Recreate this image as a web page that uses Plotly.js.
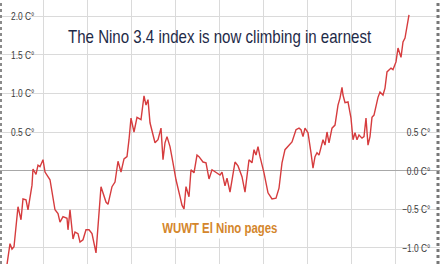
<!DOCTYPE html>
<html>
<head>
<meta charset="utf-8">
<script src="https://cdn.plot.ly/plotly-3.0.1.min.js"></script>
<style>html,body{margin:0;padding:0;background:#fff;}#chart{width:440px;height:264px;}</style>
</head>
<body>
<div id="chart"></div>
<script>
// time step (sample index along the record)
const t = [7,10,12,14,18,21,23,26,28,32,33,36,38,40,43,45,50,55,58,60,63,67,68,70,73,75,78,80,83,86,89,92,96,101,106,108,112,115,118,121,124,127,129,131,134,137,141,144,146,148,150,155,158,161,163,165,167,170,173,176,180,182,184,186,189,191,194,197,199,203,206,209,212,216,220,222,225,227,230,235,238,242,245,249,252,254,256,258,260,264,268,272,276,279,282,285,289,292,296,299,301,303,305,308,311,313,315,317,319,323,325,327,329,332,335,338,340,342,343,345,348,351,353,355,357,359,362,364,366,368,370,372,374,378,380,383,385,387,391,393,396,398,401,403,405,407,409];
// Nino 3.4 anomaly (°C)
const nino34 = [-1.22,-0.95,-1.02,-0.99,-0.47,-0.64,-0.37,-0.38,-0.51,-0.19,0.02,-0.05,0.07,0.05,0.14,-0.02,-0.12,-0.51,-0.56,-0.67,-0.60,-0.62,-0.77,-0.51,-0.89,-0.80,-0.82,-0.93,-0.90,-0.77,-0.77,-0.82,-1.07,-0.21,-0.41,-0.44,-0.21,-0.15,0.12,-0.02,0.15,0.18,0.40,0.68,0.50,0.69,0.66,0.97,0.85,0.92,0.62,0.36,0.40,0.55,0.14,0.36,0.44,0.31,0.10,-0.12,-0.34,-0.45,-0.50,-0.21,-0.34,0.01,-0.03,0.20,0.18,0.11,0.10,-0.11,0.01,-0.02,-0.06,-0.02,-0.20,-0.10,-0.28,0.11,0.06,-0.08,-0.28,0.14,0.10,0.27,0.20,0.31,0.18,-0.03,-0.29,-0.37,-0.36,-0.23,0.10,0.27,0.33,0.37,0.53,0.55,0.53,0.44,0.55,0.49,0.23,0.03,0.18,0.23,0.20,0.40,0.33,0.50,0.36,0.55,0.59,0.85,0.94,1.08,0.98,0.88,0.89,0.68,0.40,0.49,0.40,0.46,0.42,0.44,0.68,0.33,0.44,0.69,0.72,0.95,1.02,0.98,1.07,1.28,1.33,1.31,1.41,1.59,1.47,1.67,1.72,1.89,2.02];

const leftTickVals = [0.5, 1.0, 1.5, 2.0];
const leftTickText = ["0.5 C°", "1.0 C°", "1.5 C°", "2.0 C°"];
const rightTickVals = [-1.0, -0.5, 0.0, 0.5];
const rightTickText = ["\u22121.0 C°", "\u22120.5 C°", "0.0 C°", "0.5 C°"];
const titleText = "The Nino 3.4 index is now climbing in earnest";
const creditText = "WUWT El Nino pages";

const FONT = '"Liberation Sans", Arial, Helvetica, sans-serif';
const yRange = [-1.214, 2.214];

// grid values: union of both label sets; labels only on the left set
const gridVals = [];
const gridText = [];
rightTickVals.concat(leftTickVals).forEach(v => {
  if (gridVals.indexOf(v) === -1) {
    gridVals.push(v);
    const i = leftTickVals.indexOf(v);
    gridText.push(i >= 0 ? leftTickText[i] : '');
  }
});

const data = [{
  x: t, y: nino34, type: 'scatter', mode: 'lines',
  line: {color: '#d63c3e', width: 1.4}, hoverinfo: 'skip', showlegend: false
}];

const rightLabels = rightTickVals.map((v, i) => ({
  text: rightTickText[i], xref: 'paper', yref: 'y', x: 432/440, y: v,
  xanchor: 'right', yanchor: 'middle', showarrow: false,
  font: {family: FONT, size: 10.5, color: '#3a3a3a'}, name: 'rlab'
}));

const layout = {
  width: 440, height: 264,
  margin: {l: 0, r: 0, t: 0, b: 0, pad: 0},
  paper_bgcolor: '#ffffff', plot_bgcolor: '#ffffff',
  showlegend: false,
  title: {text: titleText, font: {family: FONT, size: 18.5, color: '#1e2a48'},
          x: 0.499, xanchor: 'center', y: 1 - 37/264, yanchor: 'middle'},
  xaxis: {range: [0, 440], showgrid: true, gridcolor: '#dadada', gridwidth: 1,
          tick0: 43, dtick: 44, showticklabels: false, zeroline: false, ticks: '', showline: false},
  yaxis: {range: yRange, tickmode: 'array', tickvals: gridVals, ticktext: gridText,
          ticklabelposition: 'inside', side: 'left', ticks: '',
          ticklabelstandoff: 8,
          tickfont: {family: FONT, size: 10.5, color: '#3a3a3a'},
          showgrid: true, gridcolor: '#dadada', gridwidth: 1,
          zeroline: true, zerolinecolor: '#a8a8a8', zerolinewidth: 1.5, showline: false},
  shapes: [
    {type: 'rect', xref: 'paper', yref: 'y', x0: 0, x1: 40/440, y0: 0.35, y1: 2.3,
     fillcolor: '#ffffff', line: {width: 0}, layer: 'between'},
    {type: 'rect', xref: 'paper', yref: 'y', x0: 400/440, x1: 436/440, y0: -1.3, y1: 0.62,
     fillcolor: '#ffffff', line: {width: 0}, layer: 'between'},
    {type: 'rect', xref: 'paper', yref: 'paper', x0: 60/440, x1: 382/440, y0: 1 - 52/264, y1: 1 - 22/264,
     fillcolor: '#ffffff', line: {width: 0}, layer: 'between'},
    {type: 'line', xref: 'paper', yref: 'paper', x0: 1/440, x1: 1/440, y0: 0, y1: 1,
     line: {color: '#8a8a8a', width: 2, dash: 'dot'}, layer: 'above'},
    {type: 'line', xref: 'paper', yref: 'paper', x0: 438/440, x1: 438/440, y0: 0, y1: 1,
     line: {color: '#777777', width: 3, dash: 'dot'}, layer: 'above'}
  ],
  annotations: [
    {text: '<b>' + creditText + '</b>', xref: 'paper', yref: 'paper', x: 0.5, y: 1 - 228/264,
     xanchor: 'center', yanchor: 'middle', showarrow: false, bgcolor: '#ffffff', borderpad: 2,
     font: {family: FONT, size: 14, color: '#d4862c'}, name: 'credit'}
  ].concat(rightLabels)
};

// horizontally condense text to match the narrow lettering of the original
function squeeze(el, s, mode) {
  const svg = el.ownerSVGElement;
  if (!svg) return;
  const sr = svg.getBoundingClientRect();
  const r = el.getBoundingClientRect();
  if (r.width === 0) return;
  let ax = mode === 'left' ? r.left : (mode === 'right' ? r.right : r.left + r.width / 2);
  ax -= sr.left;
  const p = el.parentNode.getCTM ? el.parentNode.getCTM() : null;
  const px = ax - (p ? p.e : 0);
  const old = el.getAttribute('transform') || '';
  el.setAttribute('transform', 'translate(' + px + ',0) scale(' + s + ',1) translate(' + (-px) + ',0) ' + old);
}

Plotly.newPlot('chart', data, layout, {staticPlot: true, displayModeBar: false}).then(gd => {
  gd.querySelectorAll('.gtitle').forEach(el => squeeze(el, 0.815, 'center'));
  gd.querySelectorAll('.ytick text').forEach(el => squeeze(el, 0.8, 'left'));
  const anns = gd.querySelectorAll('.annotation');
  anns.forEach((g, i) => {
    const txt = g.querySelector('text.annotation-text');
    if (!txt) return;
    if (i === 0) squeeze(txt, 0.815, 'center');
    else squeeze(txt, 0.8, 'right');
  });
});
</script>
</body>
</html>
